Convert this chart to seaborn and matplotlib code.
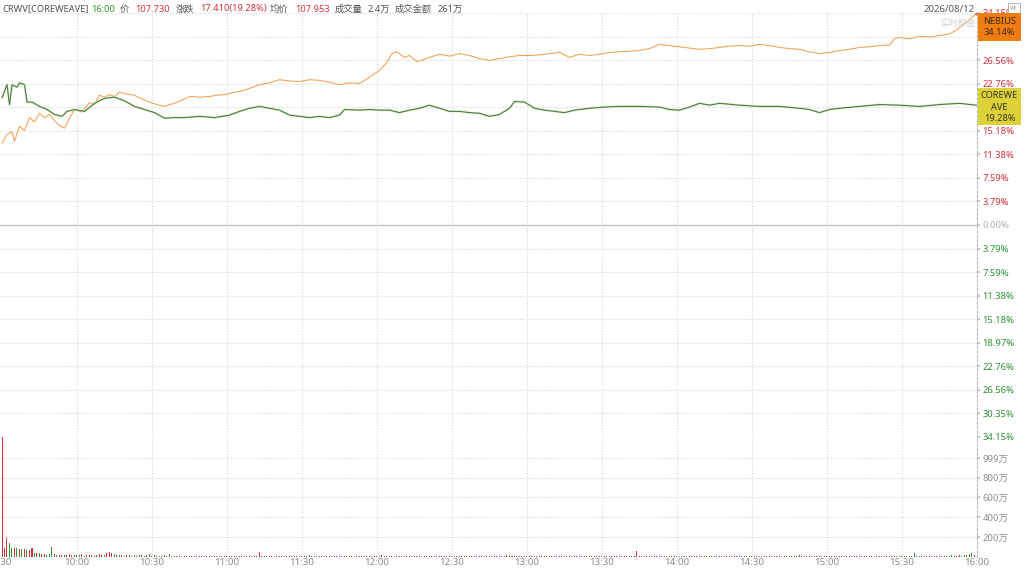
import matplotlib
matplotlib.use("Agg")
import matplotlib.pyplot as plt
from matplotlib.patches import Rectangle
import seaborn as sns
import pandas as pd
import numpy as np

sns.set_theme(style="white")
plt.rcParams["font.family"] = ["Noto Sans", "Noto Sans CJK SC", "DejaVu Sans"]

RED = "#d2323e"
GREEN = "#2f9235"
GRAY = "#8c8c8c"
DARK = "#555555"

# ─── Data (minutes after 09:30, % change) ─────────────────────────────────────
nebius_min = [0, 2, 4, 5, 7, 9, 11, 13, 15, 17, 19, 21, 23, 25, 27, 29, 32, 35, 37, 39, 41, 43,
              45, 47, 50, 53, 56, 59, 62, 65, 67, 69, 72, 75, 79, 83, 86, 89, 92, 95, 99,
              103, 107, 111, 115, 119, 123, 127, 131, 135, 139, 143, 147, 151, 154, 156,
              158, 161, 163, 166, 171, 175, 179, 183, 187, 191, 195, 199, 203, 207,
              211, 215, 219, 223, 227, 231, 235, 239, 243, 247, 251, 255, 259, 263, 267,
              271, 275, 279, 283, 287, 291, 295, 299, 303, 307, 311, 315, 319, 323, 327,
              331, 335, 339, 343, 347, 351, 355, 357, 359, 363, 367, 371, 375, 379, 381,
              383, 385, 387, 389, 390]
nebius_pct = [13.2, 14.6, 15.0, 13.5, 15.9, 15.2, 17.3, 16.6, 18.0, 17.3, 17.8, 16.8, 16.0,
              15.6, 17.2, 18.6, 18.2, 19.7, 19.4, 20.9, 20.6, 21.0, 20.7, 21.4, 21.1, 20.9,
              20.3, 19.8, 19.4, 19.1, 19.4, 19.6, 20.1, 20.7, 20.6, 20.7, 20.9, 21.0, 21.3,
              21.5, 22.0, 22.6, 22.9, 23.4, 23.2, 23.1, 23.4, 23.3, 23.0, 22.6, 22.9, 22.8,
              23.8, 24.9, 26.2, 27.6, 27.9, 27.0, 27.3, 26.3, 27.0, 27.5, 27.2, 27.6, 27.3,
              26.8, 26.5, 26.8, 27.1, 27.3, 27.3, 27.4, 27.6, 27.8, 27.0, 27.5, 27.3, 27.5,
              27.8, 27.9, 28.0, 28.1, 28.4, 29.1, 28.9, 28.7, 28.5, 28.3, 28.4, 28.6, 28.8,
              28.9, 28.8, 29.1, 28.9, 28.6, 28.4, 28.3, 27.9, 27.6, 27.8, 28.1, 28.3, 28.6,
              28.7, 28.9, 29.0, 30.0, 30.2, 30.0, 30.4, 30.3, 30.5, 30.8, 31.2, 31.8, 32.4,
              33.1, 33.8, 34.14]

crwv_min = [0, 2, 3, 4, 6, 7, 9, 10, 12, 15, 18, 21, 24, 26, 29, 33, 37, 41, 45, 49, 53, 57,
            61, 65, 69, 73, 79, 85, 91, 95, 99, 103, 107, 111, 115, 119, 123, 127, 131, 135,
            137, 143, 147, 151, 155, 159, 163, 167, 171, 175, 179, 183, 187, 191, 195, 199,
            203, 205, 209, 213, 217, 221, 225, 229, 235, 241, 247, 255, 263, 267, 271, 275,
            279, 283, 287, 295, 303, 311, 319, 323, 327, 331, 335, 343, 351, 359, 367, 375,
            383, 390]
crwv_pct = [20.5, 22.6, 19.4, 22.6, 22.2, 22.9, 22.6, 19.8, 19.8, 19.1, 18.6, 17.8, 17.5,
            18.3, 18.6, 18.3, 19.6, 20.4, 20.6, 20.0, 19.1, 18.6, 18.1, 17.2, 17.3, 17.3,
            17.5, 17.3, 17.7, 18.3, 18.8, 19.1, 18.8, 18.5, 17.7, 17.5, 17.3, 17.5, 17.3,
            17.7, 18.6, 18.5, 18.6, 18.5, 18.5, 18.1, 18.5, 18.8, 19.3, 18.8, 18.3, 18.3,
            18.1, 18.0, 17.5, 17.8, 18.8, 19.9, 19.8, 18.8, 18.5, 18.3, 18.1, 18.5, 18.8,
            19.0, 19.1, 19.1, 19.0, 18.6, 18.5, 19.0, 19.6, 19.3, 19.6, 19.3, 19.1, 19.1,
            18.8, 18.6, 18.1, 18.6, 18.8, 19.1, 19.4, 19.3, 19.1, 19.4, 19.6, 19.28]

# volume per minute in 万, sign = up (+, red) / down (-, green)
vol_0930 = [1210, 90, 190, -140, -90, 90, -90, 85, -85, 85, -75, 70, 90, -45, 40, -40, 30, 35,
            -25, -30, -100, 30, -25, 20, 25, -25, 20, 30, 25, -20]
vol_1000 = [25, -20, 30, -15, 20, 25, -20, 15, -20, 30, 25, -20, 45, 50, 40, -30, 25, -20, 20,
            -15, 25, -20, 15, -20, 15, -20, 25, -15, 20, -30]
vol_1030 = [15, -20, 15, -10, 15, -20, 15, -30, 15, -10, 15, 10, -15, 10, 15, -10, 10, 15, -10,
            10, 15, -10, 10, 15, -10, 10, 15, -10, 10, 15]
vol_1100 = [10, -15, 10, 10, -15, 10, 10, 15, -10, 10, 15, 10, -10, 55, 15, 10, -10, 15, 10,
            -10, 15, 10, 10, -15, 10, 10, 15, -10, 10, 15]
vol_1130 = [-10, 15, 10, -25, 10, 15, -10, 10, 15, -10, 10, 10, -15, 10, 10, -10, 15, 10, -10,
            10, 15, -10, 10, 10, -15, 10, 10, -10, 15, 10]
vol_1200 = [10, -10, 20, 10, -10, 10, 15, -10, 10, 10, -10, 15, 10, 10, -10, 10, 15, 10, -10,
            10, 10, 15, 12, 10, -10, 10, 15, 10, -10, 10]
vol_1230 = [10, -10, 15, 10, -10, 10, 10, 15, -10, 10, 10, -10, 15, 10, 10, -10, 10, 15, 10,
            -10, 10, 10, 25, -10, 12, 10, -10, 10, 15, 10]
vol_1300 = [-10, 10, 15, -10, 10, 10, -10, 15, 10, 10, -10, 10, 15, -10, 10, 10, -10, 10, 15,
            10, -10, 10, 10, -10, 15, 10, 10, -10, 10, 10]
vol_1330 = [10, -10, 15, 10, -10, 10, 10, -10, 15, 10, 10, -10, 10, 10, 60, 10, -10, 10, 15,
            -10, 10, 10, -10, 10, 15, 10, -10, 10, 10, -10]
vol_1400 = [10, -10, 10, 15, -10, 10, 10, -10, 10, 15, 10, -10, 10, 10, -10, 15, 10, 10, -10,
            10, 10, -10, 15, 10, 10, -10, 10, 10, -10, 10]
vol_1430 = [-10, 10, 10, -15, 10, 10, -10, 10, 15, -10, 10, 10, -10, 10, 10, -10, 15, 10, -10,
            -20, 10, 10, -10, 10, 15, -10, 10, 10, -10, 10]
vol_1500 = [10, -10, 10, 10, -15, 10, 10, -10, 15, 10, -10, 10, 10, -10, 15, 10, -10, 10, 10,
            -10, 15, 10, -10, 10, 10, -15, 10, 10, -10, 15]
vol_1530 = [-15, 10, -10, 10, -15, -40, 10, -10, 15, 10, -10, 10, 15, -10, 10, -15, 10, 10,
            -15, 10, -20, 15, -10, 20, -15, -20, 25, -30, -40, 20]

time_ticks = [0, 30, 60, 90, 120, 150, 180, 210, 240, 270, 300, 330, 360, 390]
time_labels = ["9:30", "10:00", "10:30", "11:00", "11:30", "12:00", "12:30", "13:00",
               "13:30", "14:00", "14:30", "15:00", "15:30", "16:00"]
pct_step = 3.794
vol_ticks = [200, 400, 600, 800, 999]


def fx(px):
    return px / 1024


def fy(py):
    return 1 - py / 571


fig = plt.figure(figsize=(10.24, 5.71), dpi=100)
fig.patch.set_facecolor("white")

ax = fig.add_axes([0, fy(437), fx(977), (437 - 13) / 571])
axv = fig.add_axes([0, fy(557), fx(977), 120 / 571], sharex=ax)

neb = pd.DataFrame({"minute": nebius_min, "pct": nebius_pct})
crw = pd.DataFrame({"minute": crwv_min, "pct": crwv_pct})

grid_kw = dict(color="#d6d6d6", linestyle=(0, (1, 1.5)), linewidth=0.8)

# price panel
for i in range(-9, 10):
    if i != 0:
        ax.axhline(i * pct_step, zorder=0, **grid_kw)
for t in time_ticks[1:-1]:
    ax.axvline(t, zorder=0, **grid_kw)
ax.axhline(0, color="#c4c4c4", linewidth=1.0, zorder=1)

sns.lineplot(data=neb, x="minute", y="pct", ax=ax, color="#f0a050", linewidth=0.75)
sns.lineplot(data=crw, x="minute", y="pct", ax=ax, color="#d3e0a0", linewidth=1.6, alpha=0.7)
sns.lineplot(data=crw, x="minute", y="pct", ax=ax, color="#3f7a46", linewidth=0.75)
ax.plot([nebius_min[-1]], [nebius_pct[-1]], "o", color="#e0452d", markersize=2.2)

ax.set_xlim(-0.8, 390)
ax.set_ylim(-9 * pct_step, 9 * pct_step)
ax.set_xlabel("")
ax.set_ylabel("")
yt = [i * pct_step for i in range(-9, 10)]
ax.yaxis.tick_right()
ax.set_yticks(yt)
ax.set_yticklabels([f"{abs(v):.2f}%" for v in yt])
ax.tick_params(axis="y", length=2, pad=2, labelsize=6.8, colors="#c0c0c0")
for v, lab in zip(yt, ax.get_yticklabels()):
    lab.set_color(RED if v > 0.01 else (GREEN if v < -0.01 else "#b0b0b0"))
ax.tick_params(axis="x", length=0, labelbottom=False)
for s in ["top", "left", "bottom"]:
    ax.spines[s].set_visible(False)
ax.spines["right"].set_color("#b8b8b8")
ax.spines["right"].set_linestyle((0, (2, 2)))
ax.spines["right"].set_linewidth(0.8)

# volume panel
for v in vol_ticks:
    axv.axhline(v, zorder=0, **grid_kw)
for t in time_ticks[1:-1]:
    axv.axvline(t, zorder=0, **grid_kw)
vol = vol_0930 + vol_1000 + vol_1030 + vol_1100 + vol_1130 + vol_1200 + vol_1230 + \
    vol_1300 + vol_1330 + vol_1400 + vol_1430 + vol_1500 + vol_1530
vdf = pd.DataFrame({"minute": np.arange(len(vol)), "vol": np.abs(vol),
                    "col": [RED if v > 0 else GREEN for v in vol]})
axv.bar(vdf["minute"], vdf["vol"], width=0.4, color=vdf["col"], linewidth=0)
axv.set_ylim(0, 1210)
axv.yaxis.tick_right()
axv.set_yticks(vol_ticks)
axv.set_yticklabels([f"{v}万" for v in vol_ticks])
axv.tick_params(axis="y", length=2, pad=2, labelsize=6.8, colors="#c0c0c0", labelcolor=GRAY)
axv.set_xticks(time_ticks)
axv.set_xticklabels(time_labels)
axv.tick_params(axis="x", length=0, pad=1, labelsize=7, labelcolor=GRAY)
for s in ["top", "left", "bottom"]:
    axv.spines[s].set_visible(False)
axv.spines["right"].set_color("#b8b8b8")
axv.spines["right"].set_linestyle((0, (2, 2)))
axv.spines["right"].set_linewidth(0.8)
axv.set_xlabel("")
axv.set_ylabel("")

# header
hy = fy(9)
header = [(2, "CRWV[COREWEAVE]", DARK), (91, "16:00", GREEN), (120, "价", DARK),
          (135, "107.730", RED), (176, "涨跌", DARK), (200, "17.410(19.28%)", RED),
          (270, "均价", DARK), (295, "107.953", RED), (335, "成交量", DARK),
          (368, "2.4万", DARK), (395, "成交金额", DARK), (437, "261万", DARK)]
for x, s, c in header:
    fig.text(fx(x), hy, s, color=c, fontsize=6.7, ha="left", va="center")
fig.text(fx(975), hy, "2026/08/12", color=DARK, fontsize=6.9, ha="right", va="center")
fig.text(fx(975), fy(23), "实时解盘", color="#d4d4d4", fontsize=6.3, ha="right", va="center")
fig.add_artist(Rectangle((fx(1008), fy(15)), fx(12), 12 / 571, transform=fig.transFigure,
                         facecolor="white", edgecolor="#aaaaaa", linewidth=0.6))
fig.text(fx(1014), fy(9), "WP", color="#999999", fontsize=3.5, ha="center", va="center")

# end labels
fig.add_artist(Rectangle((fx(978), fy(41)), fx(43), 28 / 571, transform=fig.transFigure,
                         facecolor="#f07c14", edgecolor="none"))
fig.text(fx(999.5), fy(27), "NEBIUS\n34.14%", color="#3a2a10", fontsize=6.6,
         ha="center", va="center", linespacing=1.3)
fig.add_artist(Rectangle((fx(978), fy(125)), fx(43), 37 / 571, transform=fig.transFigure,
                         facecolor="#dcd238", edgecolor="none"))
fig.text(fx(999.5), fy(107), "COREWE\nAVE\n19.28%", color="#333322", fontsize=6.6,
         ha="center", va="center", linespacing=1.3)

fig.savefig("out.png", dpi=100)
